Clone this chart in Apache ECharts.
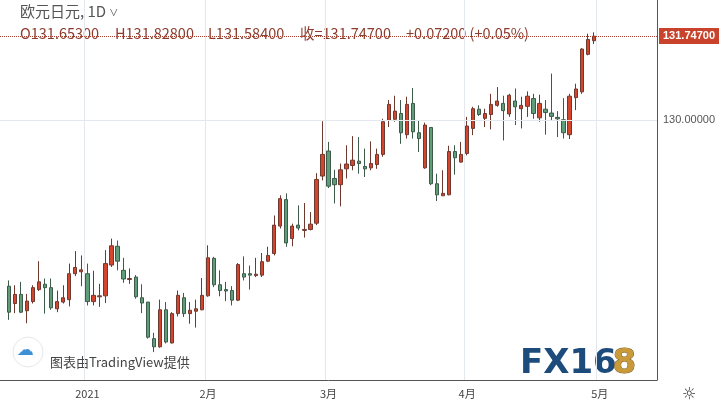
<!DOCTYPE html>
<html><head><meta charset="utf-8">
<script src="https://cdn.jsdelivr.net/npm/echarts@6/dist/echarts.min.js"></script>
<style>html,body{margin:0;padding:0;background:#fff}#c{width:721px;height:409px}</style>
</head><body><div id="c"></div>
<script>
// OHLC values: [open, close, low, high]
const opens  = [126.55,126.19,126.38,126.04,126.23,126.48,126.59,126.52,126.08,126.22,126.27,126.81,126.85,126.81,126.23,126.33,126.35,126.99,127.38,126.88,126.69,126.74,126.31,126.22,125.46,125.29,126.06,125.37,125.98,126.31,125.98,126.03,126.06,126.35,127.13,126.58,126.48,126.46,126.26,126.81,126.81,126.77,126.78,127.07,127.23,127.80,128.35,127.54,127.82,127.71,127.73,127.86,128.84,129.36,128.79,128.66,128.99,129.06,129.15,129.04,129.01,129.08,129.29,130.00,130.02,130.14,129.70,130.35,129.74,129.01,129.85,128.68,128.43,128.45,129.35,129.13,129.31,129.83,130.23,130.04,130.12,130.31,130.35,130.13,130.40,130.24,130.29,130.45,130.05,130.23,130.15,130.06,130.01,129.70,130.47,130.59,131.37,131.653];
const closes = [126.01,126.38,126.01,126.24,126.52,126.64,126.52,126.10,126.23,126.31,126.81,126.94,126.89,126.23,126.36,126.35,127.02,127.39,127.07,126.70,126.71,126.33,126.20,125.49,125.29,126.06,125.39,125.98,126.36,125.98,126.05,126.08,126.36,127.14,126.58,126.46,126.45,126.26,127.00,126.74,126.78,126.80,127.06,127.19,127.82,128.37,127.45,127.80,127.76,127.73,127.84,128.77,129.29,128.63,128.66,128.97,129.09,129.17,129.10,128.99,129.10,129.29,129.97,130.33,130.19,129.74,130.33,129.76,129.62,129.90,128.68,128.45,128.48,129.35,129.22,129.29,129.88,130.24,130.12,130.14,130.33,130.40,130.20,130.52,130.28,130.31,130.50,130.14,130.35,130.16,130.08,130.03,129.74,130.50,130.65,131.48,131.68,131.747];
const lows   = [125.85,125.99,125.99,125.78,126.19,126.45,125.98,126.06,126.01,126.19,126.13,126.76,126.55,126.15,126.15,126.12,126.20,126.95,126.88,126.62,126.60,126.29,125.99,125.46,125.18,125.27,125.36,125.36,125.92,125.91,125.77,125.69,126.05,126.33,126.53,126.34,126.24,126.15,126.24,126.67,126.48,126.74,126.74,127.05,127.19,127.75,127.37,127.38,127.71,127.56,127.71,127.82,128.75,128.59,128.27,128.21,128.79,128.96,128.89,128.82,128.96,128.99,129.24,129.86,129.97,129.51,129.62,129.62,129.34,128.99,128.65,128.32,128.43,128.44,128.87,129.12,129.27,129.69,130.09,129.86,129.81,130.28,129.58,130.07,129.90,129.83,130.07,130.03,129.97,129.70,130.00,129.65,129.62,129.61,130.21,130.55,131.35,131.584];
const highs  = [126.67,126.57,126.64,126.39,126.57,127.07,126.71,126.71,126.46,126.57,127.02,127.28,127.19,127.02,126.87,126.60,127.30,127.54,127.50,127.14,126.92,126.78,126.59,126.22,125.58,126.27,126.22,126.01,126.46,126.41,126.22,126.27,126.72,127.40,127.16,126.88,126.64,126.55,127.03,127.17,126.98,127.14,127.24,127.37,128.02,128.44,128.48,127.85,128.23,128.28,128.09,128.90,129.98,129.55,128.97,129.10,129.48,129.67,129.65,129.41,129.56,129.41,130.03,130.42,130.51,130.42,130.49,130.67,130.00,129.95,129.86,128.89,128.96,129.47,129.48,129.55,130.07,130.28,130.31,130.24,130.55,130.69,130.51,130.55,130.66,130.49,130.60,130.55,130.53,130.42,130.97,130.19,130.46,130.55,130.76,131.50,131.80,131.828];
const monthLabels = {'2021-01-04':'2021','2021-02-01':'2月','2021-03-01':'3月','2021-04-01':'4月','2021-05-03':'5月'};
const headerTexts = ['O131.65300','H131.82800','L131.58400','收=131.74700','+0.07200 (+0.05%)'];
const yLabelValue = 130;
const lastClose = 131.747;

// trading-day categories (weekdays, excluding Dec 25 and Jan 1), one blank slot before, empty days after
const cats = [];
for (let d = new Date(Date.UTC(2020,11,11)); cats.length < 109; d.setUTCDate(d.getUTCDate()+1)) {
  const wd = d.getUTCDay(); const s = d.toISOString().slice(0,10);
  if (wd===0||wd===6||s==='2020-12-25'||s==='2021-01-01') continue;
  cats.push(s);
}
const ohlc = [['-','-','-','-']].concat(opens.map((o,i)=>[o, closes[i], lows[i], highs[i]]));
const isLabel = (i)=> monthLabels[cats[i]] !== undefined;
const headerX = [20,115,208,300,406];

const chart = echarts.init(document.getElementById('c'));
chart.setOption({
  animation:false,
  grid:{left:0,right:64,top:0,bottom:29},
  xAxis:{type:'category',data:cats,boundaryGap:true,
    axisLine:{lineStyle:{color:'#555'}},
    axisTick:{alignWithLabel:true,interval:isLabel,length:4,lineStyle:{color:'#555'}},
    axisLabel:{interval:isLabel,formatter:v=>monthLabels[v]||'',color:'#444',fontSize:11,fontFamily:'Noto Sans CJK SC',margin:8},
    splitLine:{show:true,interval:isLabel,lineStyle:{color:'#e3e8ee'}}},
  yAxis:{type:'value',position:'right',min:124.6,max:132.5,interval:0.1,
    axisLine:{show:true,lineStyle:{color:'#555'}},axisTick:{show:false},splitLine:{show:false},
    axisLabel:{formatter:v=>Math.abs(v-yLabelValue)<1e-6?yLabelValue.toFixed(5):'',color:'#555',fontSize:11,margin:6}},
  series:[{type:'candlestick',data:ohlc,barWidth:'62%',
    itemStyle:{color:'#d4452e',borderColor:'#6e3a30',color0:'#5e9d78',borderColor0:'#3d5a4a',borderWidth:1},
    markLine:{symbol:'none',silent:true,data:[
      {yAxis:yLabelValue,lineStyle:{color:'#e3e8ee',type:'solid',width:1},label:{show:false}},
      {yAxis:lastClose,lineStyle:{color:'#a5402e',type:'dotted',width:1},
       label:{show:true,position:'end',formatter:lastClose.toFixed(5),color:'#fff',backgroundColor:'#c9432c',padding:[3,4,2,4],fontSize:11,fontWeight:'bold',distance:2}}
    ]}}],
  graphic:[
    {type:'text',left:20,top:4,style:{text:'欧元日元, 1D ˅',fill:'#555',font:'15px "Noto Sans CJK SC"'}},
    ...headerTexts.map((t,i)=>({type:'text',left:headerX[i],top:26,style:{text:t,fill:'#8c3b2c',font:'14.5px "Noto Sans CJK SC"'}})),
    {type:'circle',shape:{cx:28,cy:352,r:15},style:{fill:'#fff',stroke:'#e6e6e6',lineWidth:1}},
    {type:'text',left:17,top:342,style:{text:'☁',fill:'#3d8fd6',font:'bold 17px "DejaVu Sans"'}},
    {type:'text',left:50,top:356,style:{text:'图表由TradingView提供',fill:'#444',font:'13px "Noto Sans CJK SC"'}},
    {type:'text',left:520,top:347,style:{text:'FX16',fill:'#1d4b7c',font:'bold 34px "DejaVu Sans"'}},
    {type:'text',left:612,top:347,style:{text:'8',fill:'#c99a3a',stroke:'#7a5a20',lineWidth:1,font:'bold 34px "DejaVu Sans"'}},
    {type:'text',left:682,top:387,style:{text:'☼',fill:'#333',font:'16px "DejaVu Sans"'}}
  ]
});
</script></body></html>
